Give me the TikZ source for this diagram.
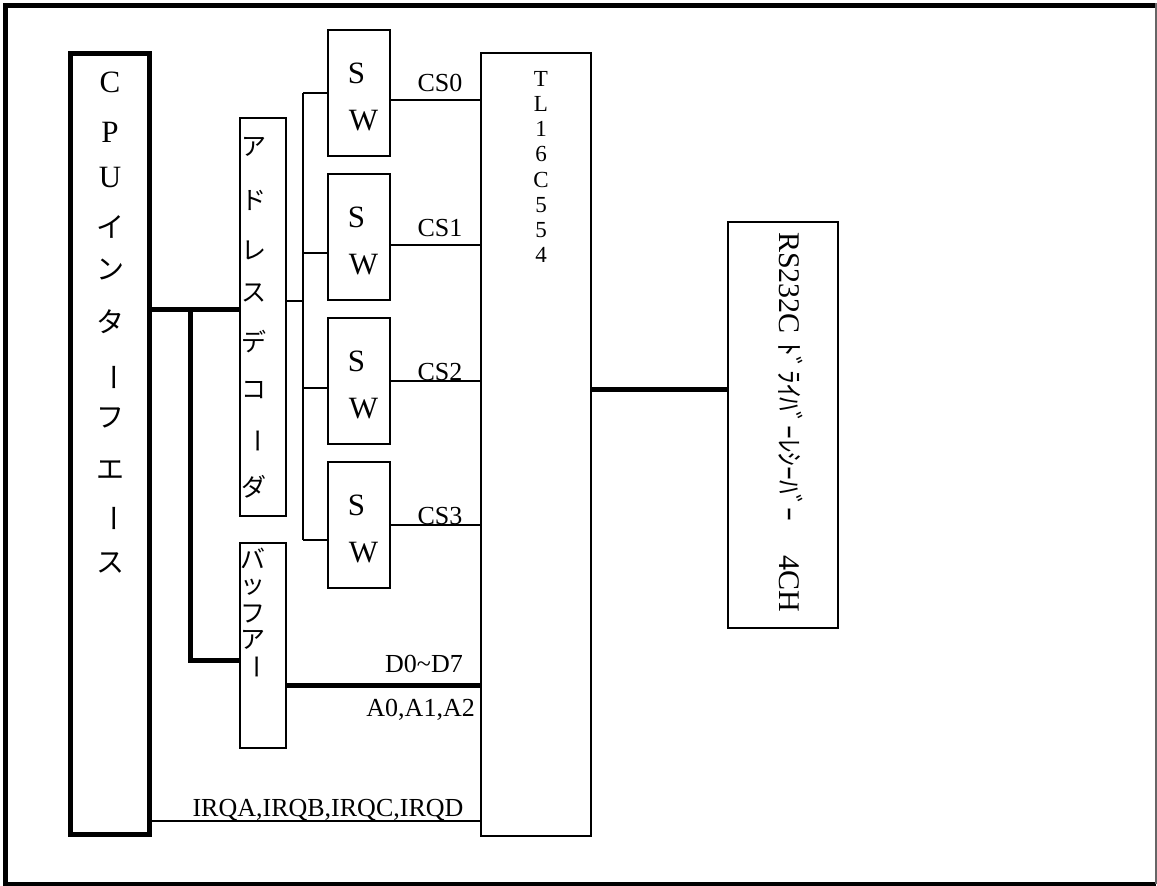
\documentclass[tikz,border=0pt]{standalone}
\usepackage{fontspec}
\usepackage{graphicx}
\setmainfont{Liberation Serif}
\newfontfamily\jp{Noto Sans CJK JP}
\newcommand{\vbar}{\rotatebox[origin=c]{-90}{ー}}
\begin{document}
\begin{tikzpicture}[x=1pt,y=-1pt,
  box/.style={draw, line width=2pt, inner sep=0pt, outer sep=0pt},
  thickbox/.style={draw, line width=5pt, inner sep=0pt, outer sep=2.5pt},
  wire/.style={line width=2pt},
  bus/.style={line width=5pt, line join=miter},
  frameline/.style={line width=5pt},
  ch/.style={inner sep=0pt},
  latinbig/.style={ch, font=\fontsize{31}{31}\selectfont},
  jpbig/.style={ch, font=\jp\fontsize{28}{28}\selectfont},
  jpmid/.style={ch, font=\jp\fontsize{25}{25}\selectfont},
  tlch/.style={ch, align=center, font=\fontsize{23}{25.2}\selectfont},
  lbl/.style={inner sep=0pt, font=\fontsize{26}{26}\selectfont}
]
\useasboundingbox (0,0) rectangle (1157,886);
% outer frame
\draw[frameline] (1156,5) -- (5.5,5) -- (5.5,884) -- (1156,884);
\draw[line width=1.5pt, black!60] (1156,3) -- (1156,884);

% boxes
\node[thickbox, minimum width=79, minimum height=781] (cpu) at (110,444) {};
\node[box, minimum width=46, minimum height=398] (dec) at (263,317) {};
\node[box, minimum width=46, minimum height=205] (buf) at (263,645.5) {};
\node[box, minimum width=62, minimum height=126] (sw1) at (359,93) {};
\node[box, minimum width=62, minimum height=126] (sw2) at (359,237) {};
\node[box, minimum width=62, minimum height=126] (sw3) at (359,381) {};
\node[box, minimum width=62, minimum height=126] (sw4) at (359,525) {};
\node[box, minimum width=110.5, minimum height=783] (tl) at (535.75,444.5) {};
\node[box, minimum width=110, minimum height=406] (rs) at (783,425) {};

% CPU text
\foreach \c/\y [count=\i] in {C/82,P/132,U/177}
  \node[latinbig] (cpuL\i) at (110,\y) {\c};
\foreach \c/\y [count=\i] in {イ/227,ン/270,タ/322,\vbar/377,フ/418,エ/470,\vbar/518,ス/563}
  \node[jpbig] (cpuJ\i) at (110,\y) {\c};

% address decoder text
\foreach \c/\y [count=\i] in {ア/147,ド/200,レ/250,ス/293,デ/342,コ/390,\vbar/441,ダ/487}
  \node[jpmid] (decT\i) at (254,\y) {\c};

% buffer text
\foreach \c/\y [count=\i] in {バ/558,ッ/587,フ/614,ア/640,\vbar/667}
  \node[jpmid] (bufT\i) at (253,\y) {\c};

% SW text
\foreach \s in {sw1,sw2,sw3,sw4}{
  \node[latinbig] (\s S) at ([xshift=-2.5,yshift=20]\s.center) {S};
  \node[latinbig] (\s W) at ([xshift=4.5,yshift=-28]\s.center) {W};
}

% TL16C554 text
\node[tlch, anchor=north] (tlT) at (541,71) {T\\L\\1\\6\\C\\5\\5\\4};

% RS232C text
\node[inner sep=0pt, rotate=-90, anchor=base west, font=\fontsize{30}{30}\selectfont] (rsT) at (779,232)
  {RS232C\hspace{9pt}{\jp\fontsize{27.5}{27.5}\selectfont ﾄﾞﾗｲﾊﾞｰﾚｼｰﾊﾞｰ}\hspace{34pt}4CH};

% buses from CPU
\coordinate (j1) at (190,309);
\draw[bus] (cpu.east |- j1) -- (dec.west |- j1);
\draw[bus] (j1) |- (buf.west |- 0,660);

% decoder to switches
\coordinate (vt) at (303,93);
\coordinate (vb) at (303,540);
\draw[wire] (dec.east |- 0,301) -- (vt |- 0,301);
\draw[wire] (vt) -- (vb);
\foreach \s/\y in {sw1/93,sw2/253,sw3/388,sw4/540}
  \draw[wire] (303,\y) -- (\s.west |- 0,\y);

% chip selects
\foreach \s/\y/\t/\o in {sw1/100/CS0/9,sw2/245/CS1/9,sw3/381/CS2/1,sw4/525/CS3/1}{
  \draw[wire] (\s.east |- 0,\y) -- (tl.west |- 0,\y);
  \node[lbl, anchor=base] (lbl\t) at (440,\y-\o) {\t};
}

% data bus
\draw[bus] (buf.east |- 0,685) -- (tl.west |- 0,685);
\node[lbl, anchor=base east] (lblD) at (463,672) {D0\textasciitilde D7};
\node[lbl, anchor=base east] (lblA) at (475,716) {A0,A1,A2};

% IRQ
\draw[wire] (cpu.east |- 0,821) -- (tl.west |- 0,821);
\node[lbl, anchor=base] (lblI) at (328,816) {IRQA,IRQB,IRQC,IRQD};

% TL to RS232C
\draw[bus] (tl.east |- 0,389) -- (rs.west |- 0,389);
\end{tikzpicture}
\end{document}
